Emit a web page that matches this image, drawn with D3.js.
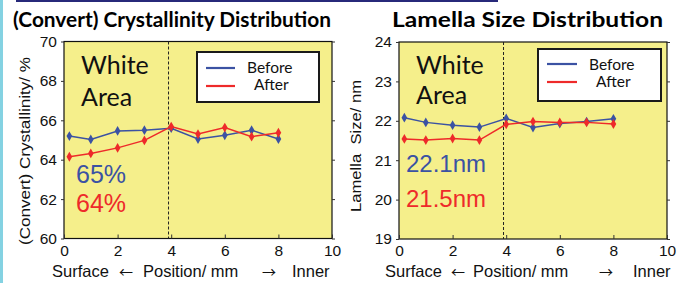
<!DOCTYPE html>
<html><head><meta charset="utf-8">
<script src="https://cdn.jsdelivr.net/npm/d3@7"></script>
<style>body{margin:0;background:#fff}svg{display:block}</style>
</head><body>
<svg id="c" width="687" height="283"></svg>
<script>
const positions = [0.2, 1, 2, 3, 4, 5, 6, 7, 8];
const crystBefore = [65.2, 65.03, 65.46, 65.5, 65.6, 65.05, 65.24, 65.5, 65.05];
const crystAfter  = [64.15, 64.32, 64.6, 64.98, 65.68, 65.3, 65.63, 65.17, 65.37];
const lamBefore = [22.08, 21.96, 21.89, 21.84, 22.06, 21.83, 21.93, 21.98, 22.05];
const lamAfter  = [21.54, 21.51, 21.55, 21.51, 21.91, 21.98, 21.96, 21.96, 21.92];
const xTicks = [0, 2, 4, 6, 8, 10];
const crystTicks = [60, 62, 64, 66, 68, 70];
const lamTicks = [19, 20, 21, 22, 23, 24];
const seriesNames = ["Before", "After"];
const boundary = 3.9;

const BLUE = "#3b52a3", RED = "#ee2a2a", FILL = "#f5ef8b";
const svg = d3.select("#c");

// decorations
svg.append("rect").attr("x",0).attr("y",0).attr("width",3).attr("height",283).attr("fill","#84d2e2");
svg.append("rect").attr("x",16).attr("y",0).attr("width",482).attr("height",2).attr("fill","#27297a");

function panel(o){
  const g = svg.append("g");
  const x = d3.scaleLinear().domain([0,10]).range([o.x0, o.x1]);
  const y = d3.scaleLinear().domain(o.domain).range([o.y0, o.y1]);
  g.append("rect").attr("x",o.x0).attr("y",o.y1).attr("width",o.x1-o.x0).attr("height",o.y0-o.y1)
    .attr("fill",FILL).attr("stroke","#111").attr("stroke-width",1.2);
  const ax = g.append("g").attr("transform",`translate(0,${o.y0})`)
    .call(d3.axisBottom(x).tickValues(xTicks).tickSize(-4).tickPadding(6).tickFormat(d3.format("d")));
  ax.select(".domain").remove();
  ax.selectAll("line").attr("stroke","#333");
  ax.selectAll("text").attr("font-family","Liberation Sans, Arial, sans-serif").attr("font-size",15.5).attr("fill","#111");
  const ay = g.append("g").attr("transform",`translate(${o.x0},0)`)
    .call(d3.axisLeft(y).tickValues(o.ticks).tickSize(3).tickPadding(4).tickFormat(d3.format("d")));
  ay.select(".domain").remove();
  ay.selectAll("line").attr("stroke","#333");
  ay.selectAll("text").attr("font-family","Liberation Sans, Arial, sans-serif").attr("font-size",15.5).attr("fill","#111");
  const ar = g.append("g").attr("transform",`translate(${o.x1},0)`)
    .call(d3.axisRight(y).tickValues(o.ticks).tickSize(3).tickFormat(""));
  ar.select(".domain").remove();
  ar.selectAll("line").attr("stroke","#333");
  g.append("line").attr("x1",x(boundary)).attr("x2",x(boundary)).attr("y1",o.y1).attr("y2",o.y0)
    .attr("stroke","#222").attr("stroke-width",1).attr("stroke-dasharray","3,2");
  const line = d3.line().x((d,i)=>x(positions[i])).y(d=>y(d));
  [[o.before,BLUE],[o.after,RED]].forEach(([vals,col])=>{
    g.append("path").datum(vals).attr("d",line).attr("fill","none").attr("stroke",col).attr("stroke-width",1.5);
    g.selectAll(null).data(vals).enter().append("path")
      .attr("d",d3.symbol().type(d3.symbolDiamond).size(28))
      .attr("transform",(d,i)=>`translate(${x(positions[i])},${y(d)})`)
      .attr("fill",col);
  });
  const wa = g.append("text").attr("font-family","Lato, sans-serif").attr("font-size",25).attr("fill","#111");
  wa.append("tspan").attr("x",o.x0+17).attr("y",74).text("White");
  wa.append("tspan").attr("x",o.x0+17).attr("y",o.areaY).text("Area");
  g.append("text").attr("x",o.vx).attr("y",o.v1y).attr("font-family","Liberation Sans, Arial, sans-serif")
    .attr("font-size",o.vfs).attr("fill",BLUE).text(o.v1);
  g.append("text").attr("x",o.vx).attr("y",o.v2y).attr("font-family","Liberation Sans, Arial, sans-serif")
    .attr("font-size",o.vfs).attr("fill",RED).text(o.v2);
  const L = o.leg;
  g.append("rect").attr("x",L.x).attr("y",L.y).attr("width",L.w).attr("height",L.h)
    .attr("fill","#fff").attr("stroke","#1a1a1a").attr("stroke-width",2);
  [[BLUE,L.l1],[RED,L.l2]].forEach(([col,ly],i)=>{
    g.append("line").attr("x1",L.lx0).attr("x2",L.lx1).attr("y1",ly).attr("y2",ly).attr("stroke",col).attr("stroke-width",2.2);
    g.append("text").attr("x",L.tx[i]).attr("y",L.ty[i]).attr("font-family","Lato, sans-serif")
      .attr("font-size",15.5).attr("fill","#111").text(seriesNames[i]);
  });
  g.append("text").attr("x",o.tx).attr("y",27).attr("font-family","Lato, sans-serif").attr("font-weight","bold")
    .attr("font-size",21).attr("fill","#000").attr("textLength",o.tw).attr("lengthAdjust","spacingAndGlyphs").text(o.title);
  g.append("text").attr("transform",`translate(${o.ylx},${o.yly}) rotate(-90)`).attr("text-anchor","middle")
    .attr("font-family","Liberation Sans, Arial, sans-serif").attr("font-size",15.5).attr("fill","#111")
    .attr("textLength",o.ylw).attr("lengthAdjust","spacingAndGlyphs").style("white-space","pre").text(o.ylabel);
  const xl = [["Surface",o.xl[0],false],["\u2190",o.xl[1],true],["Position/ mm",o.xl[2],false],["\u2192",o.xl[3],true],["Inner",o.xl[4],false]];
  xl.forEach(([t,px,arrow])=>{
    g.append("text").attr("x",px).attr("y",277)
      .attr("font-family", arrow ? "Noto Sans CJK JP, DejaVu Sans, sans-serif" : "Liberation Sans, Arial, sans-serif")
      .attr("font-size", arrow ? 14 : 16.5).attr("fill","#111").text(t);
  });
}

panel({x0:64,x1:332,y0:238.5,y1:41.5,domain:[60,70],ticks:crystTicks,before:crystBefore,after:crystAfter,
  areaY:106,vx:76,v1y:183,v2y:212,vfs:25,v1:"65%",v2:"64%",
  leg:{x:197,y:52,w:122,h:50,lx0:206,lx1:235,l1:68,l2:86,tx:[247,254],ty:[73,90]},
  tx:13,tw:318,title:"(Convert) Crystallinity Distribution",
  ylx:30,yly:151,ylw:188,ylabel:"(Convert) Crystallinity/ %",
  xl:[52,119,143,262,292]});

panel({x0:399,x1:667,y0:239,y1:42,domain:[19,24],ticks:lamTicks,before:lamBefore,after:lamAfter,
  areaY:104,vx:406,v1y:172,v2y:207,vfs:24,v1:"22.1nm",v2:"21.5nm",
  leg:{x:538,y:49,w:123,h:52,lx0:547,lx1:577,l1:64,l2:82,tx:[589,596],ty:[70,87]},
  tx:392,tw:271,title:"Lamella Size Distribution",
  ylx:361,yly:146,ylw:132,ylabel:"Lamella  Size/ nm",
  xl:[385,451,473,599,633]});
</script>
</body></html>
